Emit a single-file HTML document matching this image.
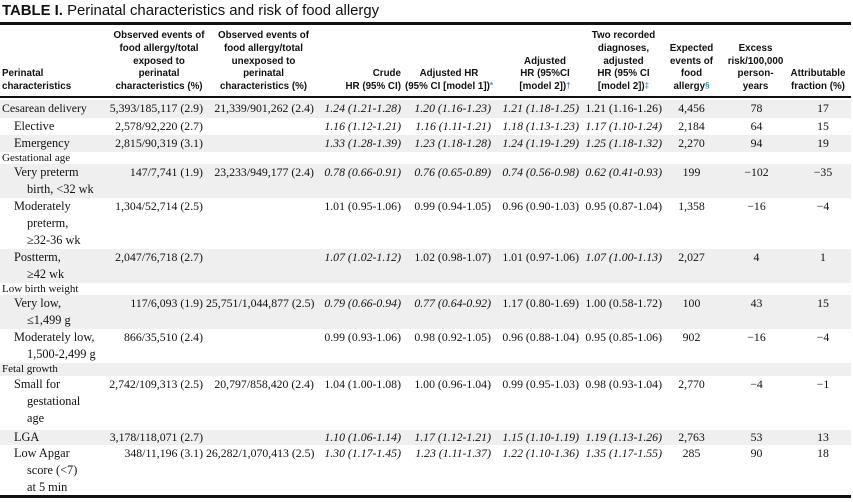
<!DOCTYPE html>
<html><head><meta charset="utf-8"><style>
body{margin:0;background:#fff;width:853px;height:502px;position:relative;overflow:hidden;font-family:"Liberation Serif",serif;color:#111}
.title{position:absolute;left:2px;top:3px;font:14.9px "Liberation Sans",sans-serif;white-space:nowrap}
.rule{position:absolute;left:0;width:851px;background:#111}
table{position:absolute;left:0;border-collapse:collapse;table-layout:fixed;width:851px}
td{padding:0;vertical-align:top;white-space:nowrap}
.h td{font:bold 9.8px/12.8px "Liberation Sans",sans-serif;vertical-align:bottom;text-align:center;height:69px}
.b td{font-size:11.8px;line-height:17px}
.b td.r{text-align:right;padding-right:3px}
.b td.c{text-align:center}
.b i{font-style:italic}
.s{background:#efefef}
.lab{font-size:12.3px!important;padding-left:14px!important;white-space:normal!important;line-height:17px}
.lab span{display:block;padding-left:13px}
.cat td{font-size:11px;line-height:12px}
sup{color:#2a8fc1;font-size:8px;vertical-align:top;line-height:9px}
</style></head><body>
<div class="title"><b>TABLE I.</b> Perinatal characteristics and risk of food allergy</div>
<div class="rule" style="top:22px;height:3px"></div>
<table class="h" style="top:25px">
<colgroup><col style="width:106px"><col style="width:100px"><col style="width:111px"><col style="width:87px"><col style="width:90px"><col style="width:88px"><col style="width:83px"><col style="width:53px"><col style="width:67px"><col style="width:66px"></colgroup>
<tr><td style="text-align:left;padding-left:2px">Perinatal<br>characteristics</td><td style="padding-left:6px">Observed events of<br>food allergy/total<br>exposed to<br>perinatal<br>characteristics (%)</td><td style="padding-left:4px">Observed events of<br>food allergy/total<br>unexposed to<br>perinatal<br>characteristics (%)</td><td style="text-align:right;padding-right:3px">Crude<br>HR (95% CI)</td><td>Adjusted HR<br>(95% CI [model 1])<sup>*</sup></td><td style="padding-left:14px">Adjusted<br>HR (95%CI<br>[model 2])<sup>†</sup></td><td>Two recorded<br>diagnoses,<br>adjusted<br>HR (95% CI<br>[model 2])<sup>‡</sup></td><td>Expected<br>events of<br>food<br>allergy<sup>§</sup></td><td style="padding-left:8px">Excess<br>risk/100,000<br>person-<br>years</td><td>Attributable<br>fraction (%)</td></tr>
</table>
<div class="rule" style="top:96px;height:2px"></div>
<table class="b" style="top:100px">
<colgroup><col style="width:106px"><col style="width:100px"><col style="width:111px"><col style="width:87px"><col style="width:90px"><col style="width:88px"><col style="width:83px"><col style="width:53px"><col style="width:77px"><col style="width:56px"></colgroup>
<tr class="s" style="height:18px"><td style="padding-left:2px;font-size:11.8px">Cesarean delivery</td><td class="r">5,393/185,117 (2.9)</td><td class="r">21,339/901,262 (2.4)</td><td class="r"><i>1.24 (1.21-1.28)</i></td><td class="r"><i>1.20 (1.16-1.23)</i></td><td class="r"><i>1.21 (1.18-1.25)</i></td><td class="r">1.21 (1.16-1.26)</td><td class="c">4,456</td><td class="c">78</td><td class="c">17</td></tr>
<tr style="height:17px"><td class="lab">Elective</td><td class="r">2,578/92,220 (2.7)</td><td></td><td class="r"><i>1.16 (1.12-1.21)</i></td><td class="r"><i>1.16 (1.11-1.21)</i></td><td class="r"><i>1.18 (1.13-1.23)</i></td><td class="r"><i>1.17 (1.10-1.24)</i></td><td class="c">2,184</td><td class="c">64</td><td class="c">15</td></tr>
<tr class="s" style="height:17px"><td class="lab">Emergency</td><td class="r">2,815/90,319 (3.1)</td><td></td><td class="r"><i>1.33 (1.28-1.39)</i></td><td class="r"><i>1.23 (1.18-1.28)</i></td><td class="r"><i>1.24 (1.19-1.29)</i></td><td class="r"><i>1.25 (1.18-1.32)</i></td><td class="c">2,270</td><td class="c">94</td><td class="c">19</td></tr>
<tr class="cat" style="height:12px"><td style="padding-left:2px">Gestational age</td><td colspan="9"></td></tr>
<tr class="s" style="height:34px"><td class="lab">Very preterm <span>birth, &lt;32 wk</span></td><td class="r">147/7,741 (1.9)</td><td class="r">23,233/949,177 (2.4)</td><td class="r"><i>0.78 (0.66-0.91)</i></td><td class="r"><i>0.76 (0.65-0.89)</i></td><td class="r"><i>0.74 (0.56-0.98)</i></td><td class="r"><i>0.62 (0.41-0.93)</i></td><td class="c">199</td><td class="c">−102</td><td class="c">−35</td></tr>
<tr style="height:51px"><td class="lab">Moderately <span>preterm,<br>≥32-36 wk</span></td><td class="r">1,304/52,714 (2.5)</td><td></td><td class="r">1.01 (0.95-1.06)</td><td class="r">0.99 (0.94-1.05)</td><td class="r">0.96 (0.90-1.03)</td><td class="r">0.95 (0.87-1.04)</td><td class="c">1,358</td><td class="c">−16</td><td class="c">−4</td></tr>
<tr class="s" style="height:33px"><td class="lab">Postterm, <span>≥42 wk</span></td><td class="r">2,047/76,718 (2.7)</td><td></td><td class="r"><i>1.07 (1.02-1.12)</i></td><td class="r">1.02 (0.98-1.07)</td><td class="r">1.01 (0.97-1.06)</td><td class="r"><i>1.07 (1.00-1.13)</i></td><td class="c">2,027</td><td class="c">4</td><td class="c">1</td></tr>
<tr class="cat" style="height:12px"><td style="padding-left:2px">Low birth weight</td><td colspan="9"></td></tr>
<tr class="s" style="height:34px"><td class="lab">Very low, <span>≤1,499 g</span></td><td class="r">117/6,093 (1.9)</td><td class="r">25,751/1,044,877 (2.5)</td><td class="r"><i>0.79 (0.66-0.94)</i></td><td class="r"><i>0.77 (0.64-0.92)</i></td><td class="r">1.17 (0.80-1.69)</td><td class="r">1.00 (0.58-1.72)</td><td class="c">100</td><td class="c">43</td><td class="c">15</td></tr>
<tr style="height:34px"><td class="lab">Moderately low, <span>1,500-2,499 g</span></td><td class="r">866/35,510 (2.4)</td><td></td><td class="r">0.99 (0.93-1.06)</td><td class="r">0.98 (0.92-1.05)</td><td class="r">0.96 (0.88-1.04)</td><td class="r">0.95 (0.85-1.06)</td><td class="c">902</td><td class="c">−16</td><td class="c">−4</td></tr>
<tr class="cat s" style="height:13px"><td style="padding-left:2px">Fetal growth</td><td colspan="9"></td></tr>
<tr style="height:54px"><td class="lab">Small for <span>gestational<br>age</span></td><td class="r">2,742/109,313 (2.5)</td><td class="r">20,797/858,420 (2.4)</td><td class="r">1.04 (1.00-1.08)</td><td class="r">1.00 (0.96-1.04)</td><td class="r">0.99 (0.95-1.03)</td><td class="r">0.98 (0.93-1.04)</td><td class="c">2,770</td><td class="c">−4</td><td class="c">−1</td></tr>
<tr class="s" style="height:14px"><td class="lab" style="line-height:15px">LGA</td><td class="r" style="line-height:15px">3,178/118,071 (2.7)</td><td></td><td class="r" style="line-height:15px"><i>1.10 (1.06-1.14)</i></td><td class="r" style="line-height:15px"><i>1.17 (1.12-1.21)</i></td><td class="r" style="line-height:15px"><i>1.15 (1.10-1.19)</i></td><td class="r" style="line-height:15px"><i>1.19 (1.13-1.26)</i></td><td class="c" style="line-height:15px">2,763</td><td class="c" style="line-height:15px">53</td><td class="c" style="line-height:15px">13</td></tr>
<tr style="height:51px"><td class="lab">Low Apgar <span>score (&lt;7)<br>at 5 min</span></td><td class="r">348/11,196 (3.1)</td><td class="r">26,282/1,070,413 (2.5)</td><td class="r"><i>1.30 (1.17-1.45)</i></td><td class="r"><i>1.23 (1.11-1.37)</i></td><td class="r"><i>1.22 (1.10-1.36)</i></td><td class="r"><i>1.35 (1.17-1.55)</i></td><td class="c">285</td><td class="c">90</td><td class="c">18</td></tr>
</table>
<div class="rule" style="top:495px;height:3px"></div>
</body></html>
